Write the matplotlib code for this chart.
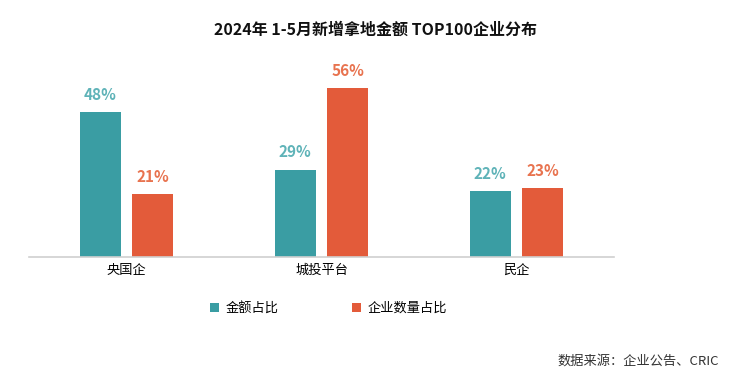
import matplotlib.pyplot as plt
import numpy as np

plt.rcParams['font.family'] = ['Noto Sans CJK SC', 'DejaVu Sans']

categories = ['央国企', '城投平台', '民企']
amount_share = [48, 29, 22]
count_share = [21, 56, 23]
series_names = ['金额占比', '企业数量占比']

teal = '#3A9DA3'
orange = '#E35B3A'

fig = plt.figure(figsize=(7.4, 3.82), dpi=100)
ax = fig.add_axes([0.039, 0.327, 0.791, 0.49])

x = np.arange(len(categories))
w = 0.21
off = 0.135
b1 = ax.bar(x - off, amount_share, w, color=teal, label=series_names[0])
b2 = ax.bar(x + off, count_share, w, color=orange, label=series_names[1])

for rect, v in zip(b1, amount_share):
    ax.text(rect.get_x() + rect.get_width() / 2, v + 3, f'{v}%', ha='center', va='bottom',
            fontsize=11, fontweight='bold', color='#5FB3B8')
for rect, v in zip(b2, count_share):
    ax.text(rect.get_x() + rect.get_width() / 2, v + 3, f'{v}%', ha='center', va='bottom',
            fontsize=11, fontweight='bold', color='#E8734F')

ax.set_xlim(-0.5, 2.5)
ax.set_ylim(0, 62)
ax.set_xticks(x)
ax.set_xticklabels(categories, fontsize=9.5)
ax.tick_params(axis='x', length=0, pad=5)
ax.set_yticks([])
for s in ['top', 'right', 'left']:
    ax.spines[s].set_visible(False)
ax.spines['bottom'].set_color('#D0D0D0')
ax.spines['bottom'].set_linewidth(1.2)

leg = fig.legend(handles=[b1, b2], loc='center', bbox_to_anchor=(0.444, 0.193), ncol=2,
                 frameon=False, fontsize=9.5, handlelength=0.7, handleheight=0.7,
                 columnspacing=5.6, handletextpad=0.5)

fig.text(0.507, 0.921, '2024年 1-5月新增拿地金额 TOP100企业分布', ha='center', va='center',
         fontsize=11.5, fontweight='bold', color='#111111')
fig.text(0.972, 0.055, '数据来源：企业公告、CRIC', ha='right', va='center',
         fontsize=9.5, color='#333333')

fig.savefig('out.png', dpi=100)
